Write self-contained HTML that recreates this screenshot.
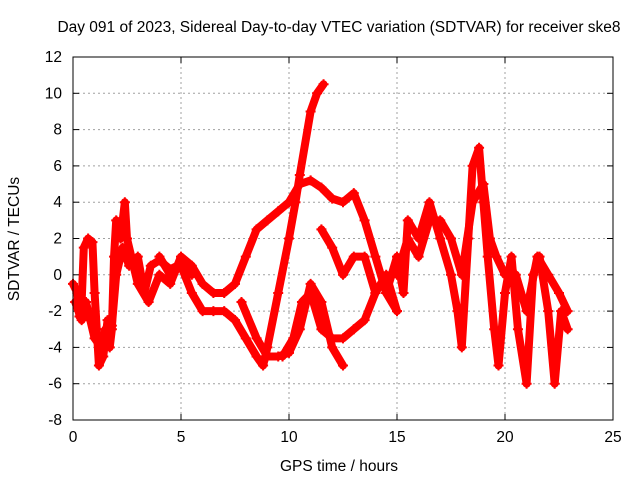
<!DOCTYPE html>
<html><head><meta charset="utf-8"><style>
body{margin:0;background:#fff}
svg text{font-family:"Liberation Sans",sans-serif;font-size:15.5px;fill:#000}
</style></head><body>
<svg id="chart" width="640" height="480">
<rect width="640" height="480" fill="#fff"/>
<text x="339" y="32" text-anchor="middle">Day 091 of 2023, Sidereal Day-to-day VTEC variation (SDTVAR) for receiver ske8</text>
<g id="grid"></g>
<g id="ticks"></g>
<g id="series"></g>
<rect x="73" y="57" width="540" height="363" fill="none" stroke="#000" stroke-width="1"/>
<text x="339" y="471" text-anchor="middle">GPS time / hours</text>
<text transform="translate(19,239) rotate(-90)" text-anchor="middle">SDTVAR / TECUs</text>
</svg>
<script>
const xTicks=[0,5,10,15,20,25];
const yTicks=[-8,-6,-4,-2,0,2,4,6,8,10,12];
const s1=[[0,-0.5],[0.2,-1],[0.3,-2.3],[0.4,-1.5],[0.5,1.5],[0.7,2],[0.9,1.8],[1,-1],[1.1,-3],[1.2,-5],[1.4,-4.5],[1.5,-3.5],[1.6,-2.5],[1.7,-4],[1.8,-3],[1.9,1],[2,3],[2.2,2],[2.4,4],[2.5,2],[2.7,1],[3,-0.5],[3.5,-1.5],[4,0],[4.5,-0.5],[5,1],[5.5,0.5],[6,-0.5],[6.5,-1],[7,-1],[7.5,-0.5],[8,1],[8.5,2.5],[9,3],[9.5,3.5],[10,4],[10.5,5],[11,5.2],[11.5,4.8],[12,4.2],[12.5,4],[13,4.5],[13.5,3],[14,1],[14.5,-1],[15,-2]];
const s2=[[0.1,-1.5],[0.4,-2.5],[0.6,-1.5],[0.8,-2.5],[1,-3.5],[1.3,-4],[1.5,-3],[1.8,-2.8],[2,0],[2.3,1.5],[2.6,0.5],[3,1],[3.3,-1],[3.6,0.5],[4,0.8],[4.5,0.3],[5,0.6],[5.5,0]];
const s3=[[4,1],[4.5,0],[5,0.5],[5.5,-1],[6,-2],[6.5,-2],[7,-2],[7.5,-2.5],[8,-3.5],[8.5,-4.5],[8.8,-5],[9,-4],[9.5,-1],[10,2],[10.3,4],[10.5,5.5],[11,9],[11.3,10],[11.6,10.5]];
const s4=[[7.8,-1.5],[8.5,-3.5],[9,-4.5],[9.5,-4.5],[10,-4.3],[10.5,-3],[11,-0.5],[11.5,-1.5],[12,-4],[12.5,-5]];
const s5=[[9.7,-4.5],[10.2,-3.5],[10.6,-1.5],[11,-1],[11.5,-3],[12,-3.5],[12.5,-3.5],[13,-3],[13.5,-2.5],[14,-1],[14.5,0],[15,-2]];
const s6=[[11.5,2.5],[12,1.5],[12.5,0],[13,1],[13.5,1],[14,-1]];
const s7=[[14.5,-1],[15,1],[15.3,-1],[15.5,3],[16,2],[16.5,4],[17,2],[17.5,0],[17.8,-2],[18,-4],[18.3,2],[18.5,6],[18.8,7],[19,4],[19.2,1],[19.5,-3],[19.7,-5],[20,-1],[20.3,1],[20.6,-3],[21,-6],[21.3,0],[21.6,1],[22,-2],[22.3,-6],[22.6,-2],[22.9,-3]];
const s8=[[15,0],[15.5,2],[16,1],[16.5,3],[17,3],[17.5,2],[18,0],[18.5,4],[19,5],[19.3,2],[19.6,1],[20,0],[20.5,0],[21,-2],[21.5,1],[22,0],[22.5,-1],[22.9,-2]];
const seriesList=[s1,s2,s3,s4,s5,s6,s7,s8];
const X=v=>73+v*540/25, Y=v=>420-(v+8)*363/20;
const NS="http://www.w3.org/2000/svg";
function mk(t,a,p){const e=document.createElementNS(NS,t);for(const k in a)e.setAttribute(k,a[k]);p.appendChild(e);return e;}
const grid=document.getElementById('grid'),ticks=document.getElementById('ticks'),ser=document.getElementById('series');
xTicks.forEach(t=>{const x=X(t);
 if(t>0&&t<25){const g=mk('line',{x1:x,x2:x,y1:57,y2:420,stroke:'#a0a0a0','stroke-dasharray':'2,3'},grid);}
 mk('line',{x1:x,x2:x,y1:420,y2:414,stroke:'#000'},ticks);mk('line',{x1:x,x2:x,y1:57,y2:63,stroke:'#000'},ticks);
 const l=mk('text',{x:x,y:442,'text-anchor':'middle'},ticks);l.textContent=t;});
yTicks.forEach(t=>{const y=Y(t);
 if(t>-8&&t<12){const g=mk('line',{x1:73,x2:613,y1:y,y2:y,stroke:'#a0a0a0','stroke-dasharray':'2,3'},grid);}
 mk('line',{x1:73,x2:79,y1:y,y2:y,stroke:'#000'},ticks);mk('line',{x1:613,x2:607,y1:y,y2:y,stroke:'#000'},ticks);
 const l=mk('text',{x:62,y:y+5,'text-anchor':'end'},ticks);l.textContent=t;});
seriesList.forEach(s=>{
 const pl=mk('polyline',{points:s.map(p=>X(p[0])+','+Y(p[1])).join(' '),fill:'none',stroke:'#f00','stroke-width':8,'stroke-linejoin':'round','stroke-linecap':'round'},ser);
 
 
 s.forEach(p=>{const x=X(p[0]),y=Y(p[1]);
  const m=mk('path',{d:`M${x-5},${y}h10M${x},${y-5}v10`,stroke:'#f00','stroke-width':2},ser);
  
  });
});
</script>
</body></html>
